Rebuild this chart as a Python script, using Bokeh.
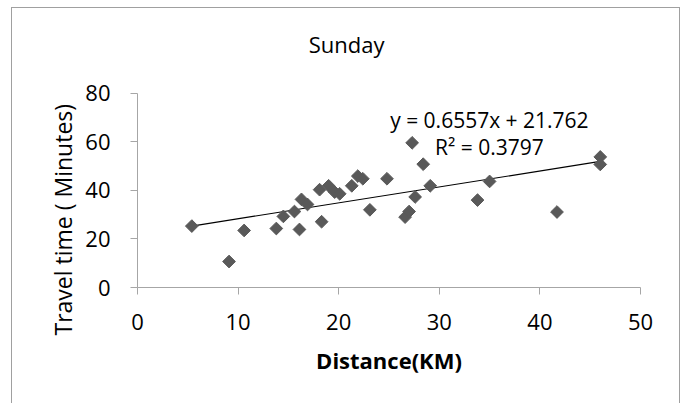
from bokeh.plotting import figure
from bokeh.models import Range1d, FixedTicker, Label, Title
from bokeh.embed import file_html
from bokeh.resources import INLINE
import math

# ---- data ----
distance_km = [5.4, 9.1, 10.6, 13.8, 14.5, 15.6, 16.1, 16.3, 16.9, 18.1,
               18.3, 19.0, 19.6, 20.1, 21.3, 21.9, 22.4, 23.1, 24.8, 26.6,
               27.0, 27.3, 27.6, 28.4, 29.1, 33.8, 35.0, 41.7, 46.0, 46.0]
travel_min = [25.3, 10.7, 23.5, 24.3, 29.3, 31.3, 23.9, 36.3, 34.2, 40.3,
              27.1, 41.9, 39.3, 38.6, 41.9, 45.9, 44.8, 32.0, 44.8, 29.0,
              31.3, 59.6, 37.3, 50.8, 41.9, 36.0, 43.7, 31.1, 53.8, 50.7]
trend_slope = 0.6557
trend_intercept = 21.762
r_squared = 0.3797
x_ticks = [0, 10, 20, 30, 40, 50]
y_ticks = [0, 20, 40, 60, 80]
chart_title = "Sunday"

FONT = "Open Sans"
AXIS_GRAY = "#a6a6a6"

# The frame extends above y=80 so the chart title can sit inside it;
# the y axis itself is bounded to 0..80 like the reference.
p = figure(width=669, height=396, output_backend="svg", toolbar_location=None,
           x_range=Range1d(0, 50), y_range=Range1d(0, 110),
           min_border_left=125, min_border_right=41,
           min_border_top=12, min_border_bottom=117,
           styles={"margin-left": "11px", "margin-top": "7px",
                   "border-left": "1px solid #a0a0a0",
                   "border-top": "1px solid #a0a0a0",
                   "border-right": "1px solid #a0a0a0"})

p.outline_line_color = None
p.xgrid.visible = False
p.ygrid.visible = False
p.background_fill_color = "white"
p.border_fill_color = "white"

for ax in (p.xaxis[0], p.yaxis[0]):
    ax.axis_line_color = AXIS_GRAY
    ax.axis_line_width = 1
    ax.major_tick_line_color = AXIS_GRAY
    ax.major_tick_out = 7
    ax.major_tick_in = 0
    ax.minor_tick_line_color = None
    ax.major_label_text_font = FONT
    ax.major_label_text_font_size = "22px"
    ax.major_label_text_color = "#000000"

p.xaxis.ticker = FixedTicker(ticks=x_ticks)
p.yaxis.ticker = FixedTicker(ticks=y_ticks)
p.yaxis.bounds = (0, 80)
p.yaxis.major_label_standoff = 20
p.xaxis.major_label_standoff = 19

p.xaxis.axis_label = "Distance(KM)"
p.xaxis.axis_label_text_font = FONT
p.xaxis.axis_label_text_font_size = "22px"
p.xaxis.axis_label_text_font_style = "bold"
p.xaxis.axis_label_text_color = "#000000"
p.xaxis.axis_label_standoff = 12

# y axis title, placed in the left panel and shifted along the axis like the reference
p.add_layout(Title(text="Travel time ( Minutes)", align="left", offset=-48, standoff=8,
                   text_font=FONT, text_font_size="23px",
                   text_font_style="normal", text_color="#000000"), "left")

# chart title
p.add_layout(Label(x=20.78, y=100.2, text=chart_title,
                   text_align="center", text_baseline="alphabetic",
                   text_font=FONT, text_font_size="22px", text_color="#000000"))

# trend line
tx = [min(distance_km), max(distance_km)]
ty = [trend_slope * v + trend_intercept for v in tx]
p.line(tx, ty, line_color="#000000", line_width=1.2)

# scatter points (diamonds)
p.scatter(distance_km, travel_min, marker="square", angle=math.pi / 4,
          size=9, fill_color="#595959", line_color="#595959")

# regression annotation
p.add_layout(Label(x=34.98, y=69.0,
                   text=f"y = {trend_slope}x + {trend_intercept}",
                   text_align="center", text_baseline="alphabetic",
                   text_font=FONT, text_font_size="21px", text_color="#000000"))
p.add_layout(Label(x=34.98, y=58.0, text=f"R² = {r_squared}",
                   text_align="center", text_baseline="alphabetic",
                   text_font=FONT, text_font_size="21px", text_color="#000000"))

open("out.html", "w").write(file_html(p, INLINE))
